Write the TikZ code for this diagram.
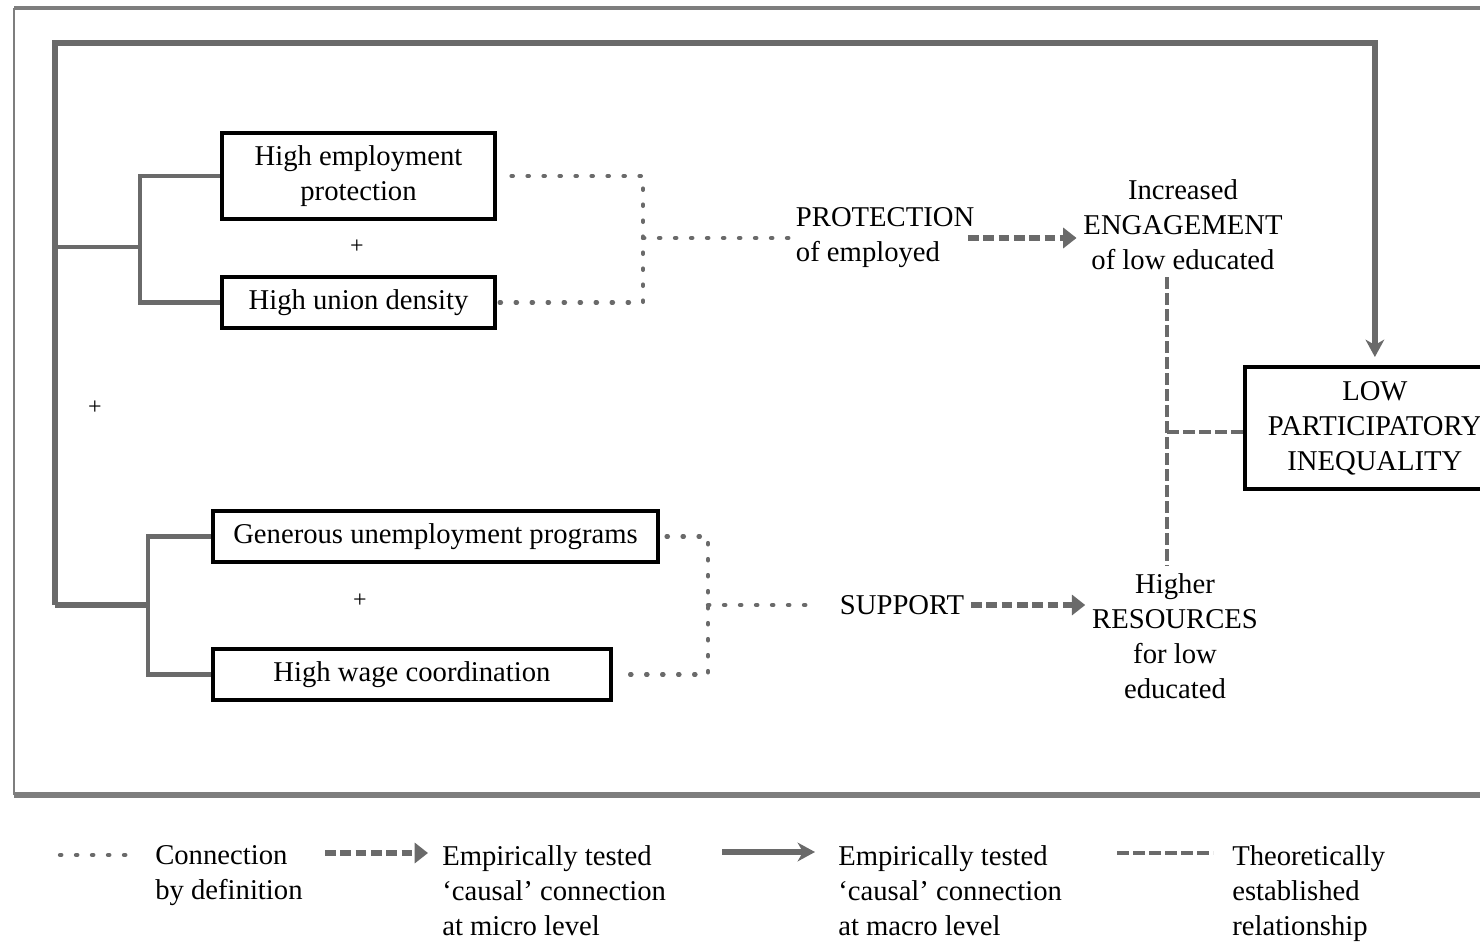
\documentclass[tikz,border=0pt]{standalone}
\usepackage{fontspec}
\setmainfont{Liberation Serif}
\usetikzlibrary{arrows.meta}
\definecolor{lg}{HTML}{6A6A6A}
\definecolor{fg}{HTML}{7E7E7E}
\begin{document}
\begin{tikzpicture}[x=0.75pt,y=-0.75pt,
  every node/.style={font=\fontsize{21.5}{26.25}\selectfont},
  box/.style={draw=black,line width=2.8pt,inner sep=0pt,align=center},
  txt/.style={inner sep=5pt,align=center},
  legtxt/.style={inner sep=0pt,align=left,anchor=north west},
  plus/.style={font=\fontsize{18}{20}\selectfont,inner sep=0pt},
  frameline/.style={draw=fg,line width=3.5pt},
  solidl/.style={draw=lg,line width=3.6pt},
  mainl/.style={draw=lg,line width=4pt},
  solidarr/.style={draw=lg,line width=4pt,-{Stealth[length=13pt,width=14pt,inset=4pt]}},
  dotl/.style={draw=lg,line width=3.2pt,dash pattern=on 1pt off 11pt,line cap=round},
  dasharr/.style={draw=lg,line width=4.2pt,dash pattern=on 8pt off 3.5pt,-{Triangle[length=10pt,width=15pt]}},
  thdash/.style={draw=lg,line width=3pt,dash pattern=on 9pt off 3pt}
]
\useasboundingbox (0,0) rectangle (1480,942);

% frame
\draw[frameline] (1480,8) -- (14,8);
\draw[draw=fg,line width=1.8pt] (14,8) -- (14,795);
\draw[frameline,line width=4pt] (14,795) -- (1480,795);

% boxes
\node[box,minimum width=204.75pt,minimum height=64.5pt] (b1) at (358.5,176) {High employment\\protection};
\node[box,minimum width=204.75pt,minimum height=38.25pt] (b2) at (358.5,302.5) {High union density};
\node[box,minimum width=333.75pt,minimum height=38.25pt] (b3) at (435.5,536.5) {Generous unemployment programs};
\node[box,minimum width=298.5pt,minimum height=38.25pt] (b4) at (412,674.5) {High wage coordination};
\node[box,minimum width=195pt,minimum height=91.5pt,anchor=north west] (low) at (1243,365) {LOW\\PARTICIPATORY\\INEQUALITY};

% plus signs
\node[plus] (p1) at (357,247) {+};
\node[plus] (p2) at (95,408) {+};
\node[plus] (p3) at (360,601) {+};

% text nodes
\node[txt,align=left,anchor=west] (prot) at (789,238) {PROTECTION\\of employed};
\node[txt] (eng) at (1183,225) {Increased\\ENGAGEMENT\\of low educated};
\node[txt,anchor=west] (sup) at (833,605) {SUPPORT};
\node[txt] (res) at (1175,636) {Higher\\RESOURCES\\for low\\educated};

% coordinates
\coordinate (ubx) at (140,247);
\coordinate (lbx) at (148,605);
\coordinate (mainU) at (55,247);
\coordinate (mainBL) at (55,605);
\coordinate (mainTL) at (55,43);
\coordinate (dv1) at (643,238);
\coordinate (dv2) at (708,605);
\coordinate (thx) at (1167,432);

% brackets
\draw[solidl] (b1.west) -| (ubx) |- (b2.west);
\draw[solidl] (b3.west) -| (lbx) |- (b4.west);
\draw[solidl] (ubx) -- (mainU);
\draw[mainl] (lbx) -- (mainBL);
\draw[solidarr] (mainBL) -- (mainTL) -| ([yshift=6pt]low.north);

% dotted definitions
\draw[dotl] ([xshift=11pt]b1.east) -| (dv1) |- ([xshift=2pt]b2.east);
\draw[dotl] (dv1) -- (prot.west);
\draw[dotl] ([xshift=5pt]b3.east) -| (dv2) |- ([xshift=10pt]b4.east);
\draw[dotl] (dv2) -- ([xshift=-13pt]sup.west);

% micro arrows
\draw[dasharr] ([xshift=-10pt]prot.east) -- (prot.east -| eng.west);
\draw[dasharr] (sup.east) -- (sup.east -| res.west);

% theoretical
\draw[thdash] (thx |- eng.south) -- (thx |- res.north);
\draw[thdash] (thx) -- (thx -| low.west);

% legend
\coordinate (l1a) at (60,855);
\coordinate (l1b) at (133,855);
\coordinate (l2a) at (325,853);
\coordinate (l2b) at (428,853);
\coordinate (l3a) at (722,852);
\coordinate (l3b) at (815,852);
\coordinate (l4a) at (1117,853);
\coordinate (l4b) at (1213,853);
\draw[dotl] (l1a) -- (l1b);
\draw[dasharr] (l2a) -- (l2b);
\draw[solidarr] (l3a) -- (l3b);
\draw[thdash] (l4a) -- (l4b);
\node[legtxt] (t1) at (155,845) {Connection\\by definition};
\node[legtxt] (t2) at (442,845) {Empirically tested\\‘causal’ connection\\at micro level};
\node[legtxt] (t3) at (838,845) {Empirically tested\\‘causal’ connection\\at macro level};
\node[legtxt] (t4) at (1232,845) {Theoretically\\established\\relationship};
\end{tikzpicture}
\end{document}
